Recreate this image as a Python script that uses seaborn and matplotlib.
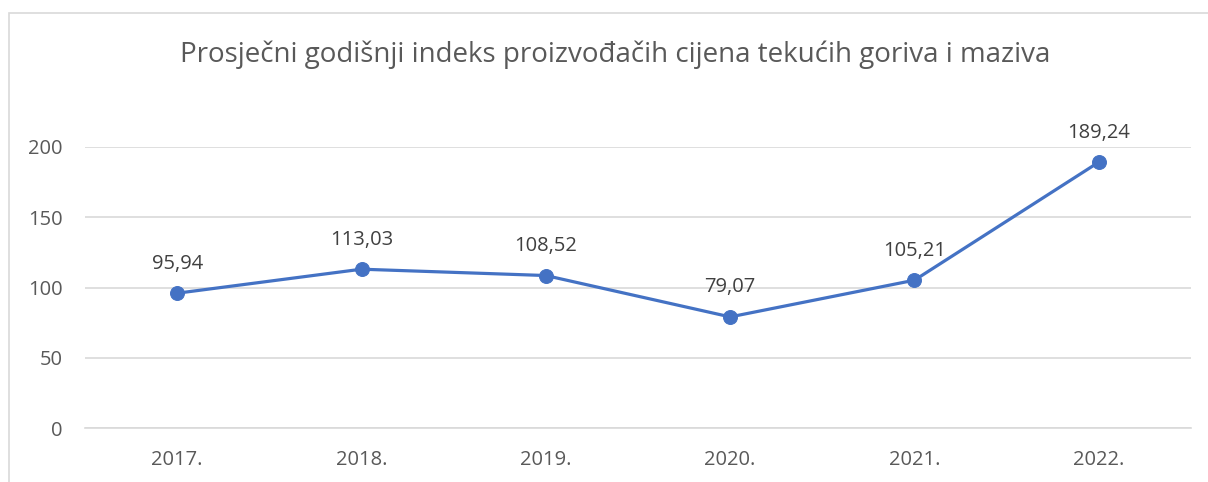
import pandas as pd
import matplotlib
matplotlib.use('Agg')
import matplotlib.pyplot as plt
from matplotlib.patches import Rectangle
import seaborn as sns

# Data
years = ['2017.', '2018.', '2019.', '2020.', '2021.', '2022.']
index_values = [95.94, 113.03, 108.52, 79.07, 105.21, 189.24]
y_ticks = [0, 50, 100, 150, 200]

title = 'Prosječni godišnji indeks proizvođačih cijena tekućih goriva i maziva'

df = pd.DataFrame({'godina': years, 'indeks': index_values})
df['pos'] = range(len(df))

sns.set_theme(style='white')
plt.rcParams['font.family'] = ['Open Sans', 'DejaVu Sans']

fig = plt.figure(figsize=(12.08, 4.82), dpi=100)
ax = fig.add_axes([85 / 1208, 54 / 482, 1106 / 1208, 281 / 482])

# light frame of the chart area (cropped at right and bottom)
fig.patches.append(Rectangle((8.5 / 1208, -0.2), 1.2, (482 - 12.5) / 482 + 0.2,
                             transform=fig.transFigure, fill=False,
                             edgecolor='#D9D9D9', linewidth=1.2))

line_color = '#4472C4'
sns.lineplot(data=df, x='pos', y='indeks', ax=ax, color=line_color,
             linewidth=2.3, marker='o', markersize=10,
             markeredgecolor=line_color, markerfacecolor=line_color)

for x, y in zip(df['pos'], df['indeks']):
    ax.annotate(f'{y:.2f}'.replace('.', ','), (x, y), xytext=(0, 14),
                textcoords='offset points', ha='center', va='bottom',
                fontsize=14.5, color='#404040')

ax.set_xlim(-0.5, len(years) - 0.5)
ax.set_ylim(0, 200)
ax.set_xticks(df['pos'])
ax.set_xticklabels(years)
ax.set_yticks(y_ticks)
ax.set_xlabel('')
ax.set_ylabel('')
ax.grid(axis='y', color='#D9D9D9', linewidth=1.2)
ax.set_axisbelow(True)
for side in ['top', 'right', 'left']:
    ax.spines[side].set_visible(False)
ax.spines['bottom'].set_color('#D9D9D9')
ax.spines['bottom'].set_linewidth(1.2)
ax.tick_params(axis='both', length=0, labelsize=14.5, labelcolor='#595959')
ax.tick_params(axis='x', pad=16)
ax.tick_params(axis='y', pad=16)
for lbl in ax.get_yticklabels():
    lbl.set_horizontalalignment('right')

fig.text(615 / 1208, 1 - 55 / 482, title, ha='center', va='center',
         fontsize=20, color='#595959')

fig.savefig('out.png', dpi=100, facecolor='white')
